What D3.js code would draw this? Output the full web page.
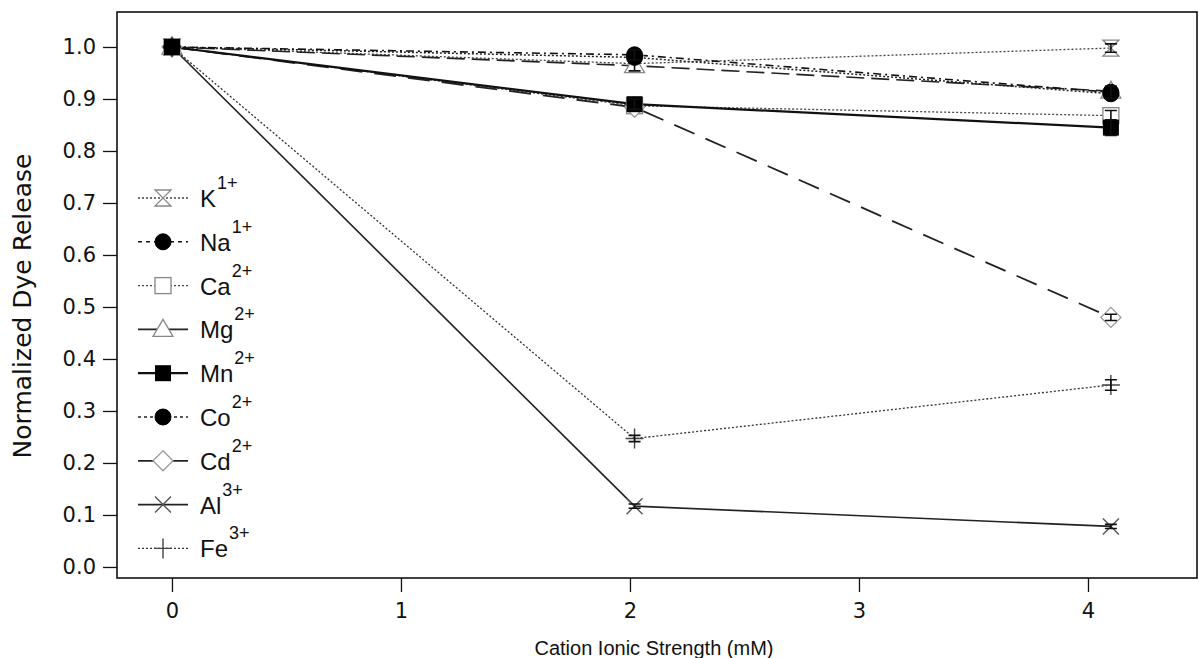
<!DOCTYPE html>
<html>
<head>
<meta charset="utf-8">
<script src="https://cdn.jsdelivr.net/npm/d3@7"></script>
<style>
  html, body { margin: 0; padding: 0; background: #fff; }
  svg { display: block; }
  text { font-family: "DejaVu Sans", sans-serif; fill: #111; }
</style>
</head>
<body>
<svg id="chart" width="1199" height="658"></svg>
<script>
// Ionic strength of the added cation (mM)
const strength = [0, 2.02, 4.1];

// Series: normalized dye release and its error
const ions = ["K", "Na", "Ca", "Mg", "Mn", "Co", "Cd", "Al", "Fe"];
const charges = ["1+", "1+", "2+", "2+", "2+", "2+", "2+", "3+", "3+"];
const kRelease  = [1.0, 0.968, 0.998];
const naRelease = [1.0, 0.985, 0.913];
const caRelease = [1.0, 0.887, 0.868];
const mgRelease = [1.0, 0.964, 0.915];
const mnRelease = [1.0, 0.890, 0.845];
const coRelease = [1.0, 0.980, 0.910];
const cdRelease = [1.0, 0.884, 0.480];
const alRelease = [1.0, 0.117, 0.078];
const feRelease = [1.0, 0.247, 0.350];

const kErr  = [0, 0.008, 0.008];
const naErr = [0, 0.010, 0.012];
const caErr = [0, 0.006, 0.010];
const mgErr = [0, 0.010, 0.008];
const mnErr = [0, 0.010, 0.015];
const coErr = [0, 0.006, 0.010];
const cdErr = [0, 0.006, 0.006];
const alErr = [0, 0.004, 0.004];
const feErr = [0, 0.006, 0.010];

const xTicks = [0, 1, 2, 3, 4];
const yTicks = [0, 0.1, 0.2, 0.3, 0.4, 0.5, 0.6, 0.7, 0.8, 0.9, 1.0];

const releases = [kRelease, naRelease, caRelease, mgRelease, mnRelease, coRelease, cdRelease, alRelease, feRelease];
const errors = [kErr, naErr, caErr, mgErr, mnErr, coErr, cdErr, alErr, feErr];

// Drawing styles per ion; z sets stacking order of the markers
const styles = {
  K:  { dash: "2,2",     legendDash: "2,2", width: 1.3, color: "#444", marker: "hourglass",    z: 0 },
  Na: { dash: "8,4,2,4", legendDash: "4,4", width: 1.6, color: "#111", marker: "circleFilled", z: 7 },
  Ca: { dash: "2,2",     legendDash: "2,2", width: 1.3, color: "#444", marker: "squareOpen",   z: 1 },
  Mg: { dash: "18,7",    legendDash: null,  width: 1.6, color: "#222", marker: "triangleOpen", z: 2 },
  Mn: { dash: null,      legendDash: null,  width: 2.2, color: "#111", marker: "squareFilled", z: 8 },
  Co: { dash: "2,2",     legendDash: "3,3", width: 1.5, color: "#222", marker: "circleFilled", z: 6 },
  Cd: { dash: "22,12",   legendDash: null,  width: 1.8, color: "#222", marker: "diamondOpen",  z: 3 },
  Al: { dash: null,      legendDash: null,  width: 1.6, color: "#222", marker: "cross",        z: 5 },
  Fe: { dash: "2,2",     legendDash: "2,2", width: 1.3, color: "#333", marker: "plus",         z: 4 }
};

const data = ions.map((ion, i) => ({
  ion, charge: charges[i], style: styles[ion],
  points: strength.map((s, j) => ({ x: s, y: releases[i][j], e: errors[i][j] }))
}));

const svg = d3.select("#chart");
const frame = { left: 117, right: 1197, top: 12, bottom: 578 };

const x = d3.scaleLinear().domain([-0.24, 4.476]).range([frame.left, frame.right]);
const y = d3.scaleLinear().domain([-0.0212, 1.0673]).range([frame.bottom, frame.top]);

// Axes
const xAxis = d3.axisBottom(x).tickValues(xTicks).tickFormat(d3.format("d")).tickSize(14).tickPadding(11);
const yAxis = d3.axisLeft(y).tickValues(yTicks).tickFormat(d3.format(".1f")).tickSize(14).tickPadding(7);

const gx = svg.append("g").attr("transform", `translate(0,${frame.bottom})`).call(xAxis);
const gy = svg.append("g").attr("transform", `translate(${frame.left},0)`).call(yAxis);
[gx, gy].forEach(g => {
  g.select(".domain").remove();
  g.selectAll(".tick line").attr("stroke", "#111").attr("stroke-width", 1.3);
  g.selectAll(".tick text").attr("font-size", 21).attr("fill", "#111")
    .style("font-family", "'DejaVu Sans', sans-serif");
});

// Plot frame
svg.append("rect")
  .attr("x", frame.left).attr("y", frame.top)
  .attr("width", frame.right - frame.left).attr("height", frame.bottom - frame.top)
  .attr("fill", "none").attr("stroke", "#111").attr("stroke-width", 1.6);

// Axis titles
svg.append("text")
  .attr("x", 654).attr("y", 655)
  .attr("text-anchor", "middle").attr("font-size", 20)
  .style("font-family", "'Liberation Sans', Arial, sans-serif")
  .text("Cation Ionic Strength (mM)");
svg.append("text")
  .attr("transform", `translate(31,306) rotate(-90)`)
  .attr("text-anchor", "middle").attr("font-size", 25)
  .text("Normalized Dye Release");

// Marker drawing
function drawMarker(g, kind, cx, cy) {
  const s = 8;
  switch (kind) {
    case "hourglass":
      g.append("path")
        .attr("d", `M${cx - s},${cy - s} L${cx + s},${cy - s} L${cx - s},${cy + s} L${cx + s},${cy + s} Z`)
        .attr("fill", "#fff").attr("stroke", "#888").attr("stroke-width", 1.3);
      break;
    case "circleFilled":
      g.append("circle").attr("cx", cx).attr("cy", cy).attr("r", 8)
        .attr("fill", "#000").attr("stroke", "#000");
      break;
    case "squareOpen":
      g.append("rect").attr("x", cx - 8).attr("y", cy - 8).attr("width", 16).attr("height", 16)
        .attr("fill", "#fff").attr("stroke", "#888").attr("stroke-width", 1.3);
      break;
    case "squareFilled":
      g.append("rect").attr("x", cx - 8).attr("y", cy - 8).attr("width", 16).attr("height", 16)
        .attr("fill", "#000");
      break;
    case "triangleOpen":
      g.append("path")
        .attr("d", `M${cx},${cy - 10} L${cx + 10},${cy + 7} L${cx - 10},${cy + 7} Z`)
        .attr("fill", "#fff").attr("stroke", "#888").attr("stroke-width", 1.3);
      break;
    case "diamondOpen":
      g.append("path")
        .attr("d", `M${cx},${cy - 10} L${cx + 10},${cy} L${cx},${cy + 10} L${cx - 10},${cy} Z`)
        .attr("fill", "#fff").attr("stroke", "#999").attr("stroke-width", 1.3);
      break;
    case "cross":
      g.append("path")
        .attr("d", `M${cx - 8},${cy - 8} L${cx + 8},${cy + 8} M${cx - 8},${cy + 8} L${cx + 8},${cy - 8}`)
        .attr("stroke", "#555").attr("stroke-width", 1.4);
      break;
    case "plus":
      g.append("path")
        .attr("d", `M${cx - 9},${cy} L${cx + 9},${cy} M${cx},${cy - 10} L${cx},${cy + 10}`)
        .attr("stroke", "#444").attr("stroke-width", 1.4);
      break;
  }
}

const line = d3.line().x(d => x(d.x)).y(d => y(d.y));
const plot = svg.append("g");
const stacked = data.slice().sort((a, b) => a.style.z - b.style.z);

// Lines
stacked.forEach(series => {
  plot.append("path")
    .datum(series.points)
    .attr("d", line)
    .attr("fill", "none")
    .attr("stroke", series.style.color)
    .attr("stroke-width", series.style.width)
    .attr("stroke-dasharray", series.style.dash);
});

// Markers and error bars
stacked.forEach(series => {
  const g = plot.append("g");
  series.points.forEach(p => {
    drawMarker(g, series.style.marker, x(p.x), y(p.y));
  });
  series.points.filter(p => p.e > 0).forEach(p => {
    const cx = x(p.x), y1 = y(p.y + p.e), y2 = y(p.y - p.e);
    g.append("path")
      .attr("d", `M${cx},${y1} L${cx},${y2} M${cx - 6},${y1} L${cx + 6},${y1} M${cx - 6},${y2} L${cx + 6},${y2}`)
      .attr("stroke", "#111").attr("stroke-width", 1.6).attr("fill", "none");
  });
});

// Legend
const legend = svg.append("g");
const legendTop = 198, legendStep = 43.8;
data.forEach((series, i) => {
  const cy = legendTop + i * legendStep;
  const g = legend.append("g");
  g.append("line")
    .attr("x1", 138).attr("x2", 188).attr("y1", cy).attr("y2", cy)
    .attr("stroke", series.style.color)
    .attr("stroke-width", series.style.width)
    .attr("stroke-dasharray", series.style.legendDash);
  drawMarker(g, series.style.marker, 163, cy);
  const t = g.append("text")
    .attr("x", 200).attr("y", cy + 9)
    .attr("font-size", 24)
    .style("font-family", "'Liberation Sans', Arial, sans-serif");
  t.append("tspan").text(series.ion);
  t.append("tspan").attr("dy", -18).attr("dx", 1).attr("font-size", 18).text(series.charge);
});
</script>
</body>
</html>
